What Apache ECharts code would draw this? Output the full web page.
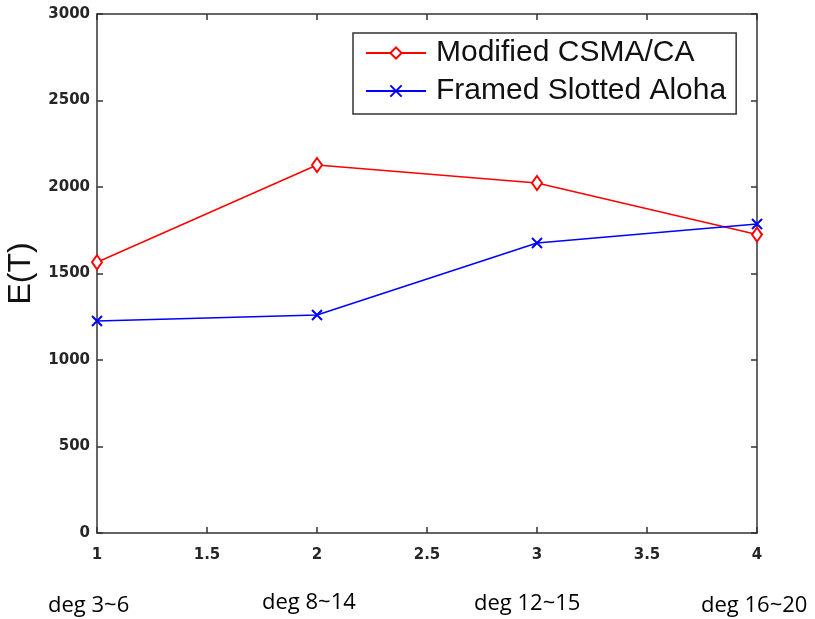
<!DOCTYPE html>
<html><head><meta charset="utf-8">
<script src="https://cdn.jsdelivr.net/npm/echarts@6/dist/echarts.min.js"></script>
<style>html,body{margin:0;padding:0;background:#fff}#c{width:815px;height:619px}</style>
</head><body><div id="c"></div>
<script>
const xValues = [1, 2, 3, 4];
const csmaValues = [1565, 2127, 2023, 1725];
const alohaValues = [1225, 1260, 1676, 1786];
const seriesNames = ['Modified CSMA/CA', 'Framed Slotted Aloha'];
const degLabels = ['deg 3~6', 'deg 8~14', 'deg 12~15', 'deg 16~20'];
const yLabel = 'E(T)';

const chart = echarts.init(document.getElementById('c'));
const crossPath = 'path://M0,0L10,10M10,0L0,10';
const axisCommon = {
  axisLine: {show: true, onZero: false, lineStyle: {color: '#333', width: 1.5}},
  axisTick: {show: true, inside: true, length: 6, lineStyle: {color: '#333', width: 1.5}},
  splitLine: {show: false}
};
const tickFont = {color: '#262626', fontSize: 15, fontWeight: 'bold', fontFamily: 'DejaVu Sans'};
const degFont = '22px "Open Sans"';
chart.setOption({
  animation: false,
  backgroundColor: '#fff',
  grid: {left: 97, right: 58, top: 14, bottom: 86, containLabel: false, outerBoundsMode: 'none'},
  legend: {
    data: seriesNames, left: 353, top: 33, orient: 'vertical',
    backgroundColor: '#fff', borderColor: '#333', borderWidth: 1.5,
    padding: [5, 10, 8, 12], itemGap: 8, itemWidth: 60, itemHeight: 14,
    textStyle: {fontFamily: 'Liberation Sans', fontSize: 30, color: '#111', padding: [0, 0, 0, 5]}
  },
  xAxis: [
    Object.assign({type: 'value', min: 1, max: 4, interval: 0.5, position: 'bottom',
      axisLabel: Object.assign({margin: 15, formatter: v => String(v)}, tickFont)}, axisCommon),
    Object.assign({type: 'value', min: 1, max: 4, interval: 0.5, position: 'top', axisLabel: {show: false}}, axisCommon)
  ],
  yAxis: [
    Object.assign({type: 'value', min: 0, max: 3000, interval: 500, position: 'left',
      name: yLabel, nameLocation: 'middle', nameGap: 53, nameRotate: 90,
      nameTextStyle: {fontFamily: 'Liberation Sans', fontSize: 32, color: '#111'},
      axisLabel: Object.assign({margin: 7, formatter: v => String(v)}, tickFont)}, axisCommon),
    Object.assign({type: 'value', min: 0, max: 3000, interval: 500, position: 'right', axisLabel: {show: false}}, axisCommon)
  ],
  series: [
    {name: seriesNames[0], type: 'line', data: xValues.map((x, i) => [x, csmaValues[i]]),
      symbol: 'emptyDiamond', symbolSize: [10, 14], showAllSymbol: true,
      lineStyle: {color: '#ff0000', width: 1.5},
      itemStyle: {color: '#ff0000', borderColor: '#ff0000', borderWidth: 1.5}},
    {name: seriesNames[1], type: 'line', data: xValues.map((x, i) => [x, alohaValues[i]]),
      symbol: crossPath, symbolSize: 10, showAllSymbol: true,
      lineStyle: {color: '#0000ff', width: 1.5},
      itemStyle: {color: 'none', borderColor: '#0000ff', borderWidth: 2}}
  ],
  graphic: [
    {type: 'text', x: 48, y: 595, style: {text: degLabels[0], font: degFont, fill: '#000', verticalAlign: 'top'}},
    {type: 'text', x: 262, y: 592, style: {text: degLabels[1], font: degFont, fill: '#000', verticalAlign: 'top'}},
    {type: 'text', x: 474, y: 593, style: {text: degLabels[2], font: degFont, fill: '#000', verticalAlign: 'top'}},
    {type: 'text', x: 701, y: 595, style: {text: degLabels[3], font: degFont, fill: '#000', verticalAlign: 'top'}}
  ]
});
</script></body></html>
